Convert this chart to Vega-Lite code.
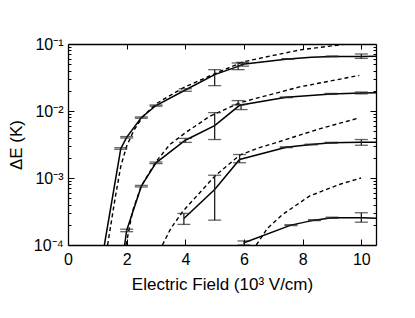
{
  "$schema": "https://vega.github.io/schema/vega-lite/v6.json",
  "width": 308,
  "height": 201,
  "autosize": "none",
  "padding": {"left": 68, "top": 44, "right": 39, "bottom": 73},
  "background": "white",
  "config": {
    "view": {"stroke": null},
    "axis": {
      "labelFont": "Liberation Sans", "titleFont": "Liberation Sans",
      "labelFontSize": 16, "titleFontSize": 17, "titleFontWeight": "normal",
      "labelColor": "black", "titleColor": "black",
      "domainColor": "black", "domainWidth": 1.3, "tickColor": "black", "tickWidth": 1,
      "grid": false, "labelOverlap": false, "labelBound": false, "labelFlush": false
    }
  },
  "datasets": {
    "pts": [
      {"s": 1, "x": 1.8, "y": 0.00275, "lo": 0.00268, "hi": 0.00283},
      {"s": 1, "x": 2.0, "y": 0.00405, "lo": 0.00395, "hi": 0.00415},
      {"s": 1, "x": 2.5, "y": 0.00798, "lo": 0.0078, "hi": 0.00815},
      {"s": 1, "x": 3.0, "y": 0.01207, "lo": 0.0118, "hi": 0.0123},
      {"s": 1, "x": 4.0, "y": 0.0206, "lo": 0.0197, "hi": 0.0215},
      {"s": 1, "x": 5.0, "y": 0.0349, "lo": 0.0239, "hi": 0.0414},
      {"s": 1, "x": 5.8, "y": 0.0464, "lo": 0.0414, "hi": 0.0521},
      {"s": 1, "x": 5.95, "y": 0.05, "lo": 0.0467, "hi": 0.0532},
      {"s": 1, "x": 7.5, "y": 0.0598, "lo": 0.0592, "hi": 0.0604},
      {"s": 1, "x": 9.0, "y": 0.0653, "lo": 0.0645, "hi": 0.0661},
      {"s": 1, "x": 10.0, "y": 0.0653, "lo": 0.061, "hi": 0.071},
      {"s": 2, "x": 2.0, "y": 0.000165, "lo": 0.000158, "hi": 0.000172},
      {"s": 2, "x": 2.5, "y": 0.000755, "lo": 0.000735, "hi": 0.000775},
      {"s": 2, "x": 3.0, "y": 0.001686, "lo": 0.00164, "hi": 0.00173},
      {"s": 2, "x": 4.0, "y": 0.00366, "lo": 0.0034, "hi": 0.0039},
      {"s": 2, "x": 5.0, "y": 0.00606, "lo": 0.00375, "hi": 0.00946},
      {"s": 2, "x": 5.8, "y": 0.0133, "lo": 0.0123, "hi": 0.0143},
      {"s": 2, "x": 5.9, "y": 0.0115, "lo": 0.0105, "hi": 0.0125},
      {"s": 2, "x": 7.44, "y": 0.016, "lo": 0.0158, "hi": 0.0162},
      {"s": 2, "x": 8.97, "y": 0.018, "lo": 0.0177, "hi": 0.0183},
      {"s": 2, "x": 10.0, "y": 0.0186, "lo": 0.018, "hi": 0.0192},
      {"s": 3, "x": 3.95, "y": 0.000249, "lo": 0.000203, "hi": 0.000296},
      {"s": 3, "x": 5.0, "y": 0.000674, "lo": 0.000235, "hi": 0.0011},
      {"s": 3, "x": 5.85, "y": 0.00189, "lo": 0.00169, "hi": 0.00224},
      {"s": 3, "x": 7.44, "y": 0.00288, "lo": 0.00284, "hi": 0.00292},
      {"s": 3, "x": 8.29, "y": 0.00316, "lo": 0.00312, "hi": 0.0032},
      {"s": 3, "x": 8.97, "y": 0.00335, "lo": 0.00329, "hi": 0.00341},
      {"s": 3, "x": 10.0, "y": 0.00342, "lo": 0.00308, "hi": 0.00375},
      {"s": 4, "x": 6.0, "y": 0.000108, "lo": 0.0001, "hi": 0.000115},
      {"s": 4, "x": 7.6, "y": 0.000198, "lo": 0.000195, "hi": 0.000201},
      {"s": 4, "x": 8.4, "y": 0.000235, "lo": 0.000231, "hi": 0.000239},
      {"s": 4, "x": 9.0, "y": 0.000255, "lo": 0.00025, "hi": 0.00026},
      {"s": 4, "x": 10.0, "y": 0.000255, "lo": 0.000219, "hi": 0.000303}
    ],
    "solid": [
      {"s": 1, "x": 1.24, "y": 0.0001}, {"s": 1, "x": 1.8, "y": 0.00275}, {"s": 1, "x": 2.0, "y": 0.00405},
      {"s": 1, "x": 2.5, "y": 0.00798}, {"s": 1, "x": 3.0, "y": 0.01207}, {"s": 1, "x": 4.0, "y": 0.0206},
      {"s": 1, "x": 5.0, "y": 0.0349}, {"s": 1, "x": 5.8, "y": 0.0464}, {"s": 1, "x": 5.95, "y": 0.05},
      {"s": 1, "x": 7.5, "y": 0.0598}, {"s": 1, "x": 8.3, "y": 0.0636}, {"s": 1, "x": 9.0, "y": 0.0653},
      {"s": 1, "x": 10.0, "y": 0.0653}, {"s": 1, "x": 10.5, "y": 0.0655},
      {"s": 2, "x": 1.93, "y": 0.0001}, {"s": 2, "x": 2.0, "y": 0.000165}, {"s": 2, "x": 2.5, "y": 0.000755},
      {"s": 2, "x": 3.0, "y": 0.001686}, {"s": 2, "x": 4.0, "y": 0.00366}, {"s": 2, "x": 5.0, "y": 0.00606},
      {"s": 2, "x": 5.85, "y": 0.01216}, {"s": 2, "x": 7.44, "y": 0.016}, {"s": 2, "x": 8.97, "y": 0.018},
      {"s": 2, "x": 10.0, "y": 0.0186}, {"s": 2, "x": 10.5, "y": 0.0187},
      {"s": 3, "x": 3.95, "y": 0.000249}, {"s": 3, "x": 5.0, "y": 0.000674}, {"s": 3, "x": 5.85, "y": 0.00189},
      {"s": 3, "x": 7.44, "y": 0.00288}, {"s": 3, "x": 8.29, "y": 0.00316}, {"s": 3, "x": 8.97, "y": 0.00335},
      {"s": 3, "x": 10.0, "y": 0.00342}, {"s": 3, "x": 10.5, "y": 0.00343},
      {"s": 4, "x": 6.0, "y": 0.000108}, {"s": 4, "x": 7.6, "y": 0.000198}, {"s": 4, "x": 8.4, "y": 0.000235},
      {"s": 4, "x": 9.0, "y": 0.000255}, {"s": 4, "x": 10.0, "y": 0.000255}, {"s": 4, "x": 10.5, "y": 0.00025}
    ],
    "dash": [
      {"s": 1, "x": 1.35, "y": 0.0001}, {"s": 1, "x": 1.6, "y": 0.00048}, {"s": 1, "x": 1.8, "y": 0.0015},
      {"s": 1, "x": 2.0, "y": 0.003}, {"s": 1, "x": 2.25, "y": 0.0052}, {"s": 1, "x": 2.56, "y": 0.0083},
      {"s": 1, "x": 3.0, "y": 0.0128}, {"s": 1, "x": 3.92, "y": 0.0221}, {"s": 1, "x": 5.06, "y": 0.037},
      {"s": 1, "x": 5.96, "y": 0.054}, {"s": 1, "x": 7.0, "y": 0.0676}, {"s": 1, "x": 7.95, "y": 0.0822},
      {"s": 1, "x": 9.31, "y": 0.0977}, {"s": 1, "x": 10.0, "y": 0.108},
      {"s": 2, "x": 1.98, "y": 0.0001}, {"s": 2, "x": 2.2, "y": 0.00032}, {"s": 2, "x": 2.5, "y": 0.00076},
      {"s": 2, "x": 3.0, "y": 0.00175}, {"s": 2, "x": 3.47, "y": 0.00316}, {"s": 2, "x": 4.0, "y": 0.00472},
      {"s": 2, "x": 4.83, "y": 0.00834}, {"s": 2, "x": 5.85, "y": 0.0132}, {"s": 2, "x": 6.25, "y": 0.0148},
      {"s": 2, "x": 7.0, "y": 0.018}, {"s": 2, "x": 7.89, "y": 0.0229}, {"s": 2, "x": 8.29, "y": 0.0247},
      {"s": 2, "x": 9.93, "y": 0.034},
      {"s": 3, "x": 3.22, "y": 0.0001}, {"s": 3, "x": 3.5, "y": 0.000175}, {"s": 3, "x": 3.92, "y": 0.00032},
      {"s": 3, "x": 5.0, "y": 0.00106}, {"s": 3, "x": 5.85, "y": 0.00219}, {"s": 3, "x": 6.5, "y": 0.00282},
      {"s": 3, "x": 7.04, "y": 0.00331}, {"s": 3, "x": 7.83, "y": 0.00427}, {"s": 3, "x": 8.63, "y": 0.0055},
      {"s": 3, "x": 9.93, "y": 0.00789},
      {"s": 4, "x": 6.42, "y": 0.0001}, {"s": 4, "x": 6.8, "y": 0.000178}, {"s": 4, "x": 7.32, "y": 0.000286},
      {"s": 4, "x": 8.23, "y": 0.000537}, {"s": 4, "x": 9.25, "y": 0.0008}, {"s": 4, "x": 9.99, "y": 0.001}
    ]
  },
  "layer": [
    {
      "layer": [
        {
          "data": {"name": "dash"},
          "mark": {"type": "line", "color": "black", "strokeWidth": 1.4, "strokeDash": [4, 3], "clip": true},
          "encoding": {
            "x": {"field": "x", "type": "quantitative", "scale": {"domain": [0, 10.5], "nice": false, "zero": false},
                  "axis": {"orient": "bottom", "title": "Electric Field (10³ V/cm)", "values": [0,1,2,3,4,5,6,7,8,9,10],
                           "labelExpr": "datum.value % 2 == 0 ? datum.label : ''",
                           "tickSize": {"condition": {"test": "datum.value % 2 == 0", "value": -6}, "value": -3},
                           "labelPadding": 12, "titlePadding": 9, "format": "d"}},
            "y": {"field": "y", "type": "quantitative", "scale": {"type": "log", "domain": [0.0001, 0.1], "nice": false},
                  "axis": {"orient": "left", "title": "ΔE (K)",
                           "values": [0.0001,0.0002,0.0003,0.0004,0.0005,0.0006,0.0007,0.0008,0.0009,0.001,0.002,0.003,0.004,0.005,0.006,0.007,0.008,0.009,0.01,0.02,0.03,0.04,0.05,0.06,0.07,0.08,0.09,0.1],
                           "labelExpr": "datum.value == 0.1 ? '10⁻¹' : datum.value == 0.01 ? '10⁻²' : datum.value == 0.001 ? '10⁻³' : datum.value == 0.0001 ? '10⁻⁴' : ''",
                           "tickSize": {"condition": {"test": "indexof([0.1,0.01,0.001,0.0001], datum.value) >= 0", "value": -6}, "value": -3},
                           "labelPadding": 11, "titlePadding": 8}},
            "detail": {"field": "s"},
            "order": {"field": "x", "type": "quantitative"}
          }
        },
        {
          "data": {"name": "solid"},
          "mark": {"type": "line", "color": "black", "strokeWidth": 1.5, "clip": true},
          "encoding": {
            "x": {"field": "x", "type": "quantitative"},
            "y": {"field": "y", "type": "quantitative"},
            "detail": {"field": "s"},
            "order": {"field": "x", "type": "quantitative"}
          }
        },
        {
          "data": {"name": "pts"},
          "mark": {"type": "rule", "color": "#222222", "strokeWidth": 1.3, "clip": true},
          "encoding": {
            "x": {"field": "x", "type": "quantitative"},
            "y": {"field": "lo", "type": "quantitative"},
            "y2": {"field": "hi"}
          }
        },
        {
          "data": {"name": "pts"},
          "mark": {"type": "tick", "orient": "horizontal", "color": "#222222", "size": 13, "thickness": 1.3, "clip": true},
          "encoding": {
            "x": {"field": "x", "type": "quantitative"},
            "y": {"field": "hi", "type": "quantitative"}
          }
        },
        {
          "data": {"name": "pts"},
          "mark": {"type": "tick", "orient": "horizontal", "color": "#222222", "size": 13, "thickness": 1.3, "clip": true},
          "encoding": {
            "x": {"field": "x", "type": "quantitative"},
            "y": {"field": "lo", "type": "quantitative"}
          }
        }
      ]
    },
    {
      "data": {"name": "pts"},
      "mark": {"type": "point", "opacity": 0},
      "encoding": {
        "x": {"field": "x", "type": "quantitative", "scale": {"domain": [0, 10.5], "nice": false, "zero": false},
              "axis": {"orient": "top", "title": null, "labels": false, "values": [2,4,6,8,10], "tickSize": -5}},
        "y": {"field": "y", "type": "quantitative", "scale": {"type": "log", "domain": [0.0001, 0.1], "nice": false},
              "axis": {"orient": "right", "title": null, "labels": false,
                       "values": [0.0001,0.0002,0.0003,0.0004,0.0005,0.0006,0.0007,0.0008,0.0009,0.001,0.002,0.003,0.004,0.005,0.006,0.007,0.008,0.009,0.01,0.02,0.03,0.04,0.05,0.06,0.07,0.08,0.09,0.1],
                       "tickSize": {"condition": {"test": "indexof([0.1,0.01,0.001,0.0001], datum.value) >= 0", "value": -6}, "value": -3}}}
      }
    }
  ],
  "resolve": {"axis": {"x": "independent", "y": "independent"}}
}
